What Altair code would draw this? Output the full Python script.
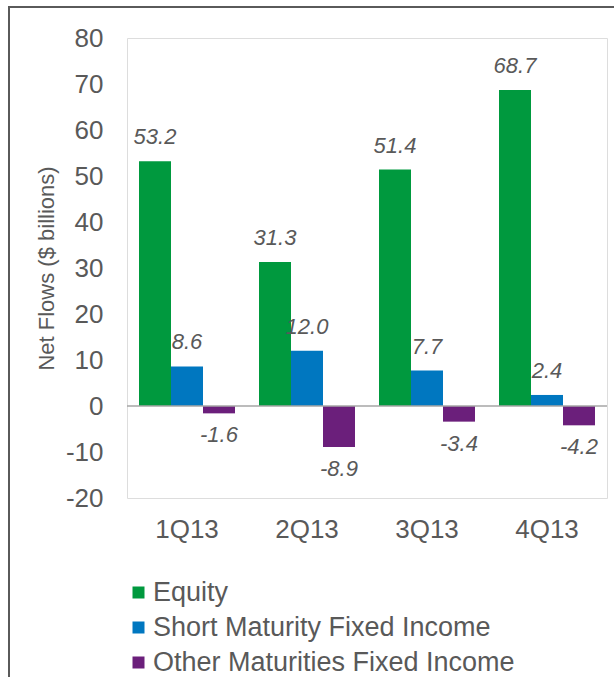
import altair as alt
import pandas as pd

quarters = ["1Q13", "2Q13", "3Q13", "4Q13"]
series = ["Equity", "Short Maturity Fixed Income", "Other Maturities Fixed Income"]
equity = [53.2, 31.3, 51.4, 68.7]
short_fi = [8.6, 12.0, 7.7, 2.4]
other_fi = [-1.6, -8.9, -3.4, -4.2]
colors = ["#00993E", "#0077C0", "#6B1F7B"]
y_ticks = [-20, -10, 0, 10, 20, 30, 40, 50, 60, 70, 80]

rows = []
for i, q in enumerate(quarters):
    for s, vals in zip(series, [equity, short_fi, other_fi]):
        rows.append({"quarter": q, "series": s, "value": vals[i]})
df = pd.DataFrame(rows)

FONT = "Liberation Sans"
GRAY = "#595959"

x_enc = alt.X("quarter:N", sort=quarters, title=None,
              scale=alt.Scale(paddingInner=0.2, paddingOuter=0.1),
              axis=alt.Axis(labelAngle=0, labelFontSize=26, labelColor=GRAY, labelFont=FONT,
                            ticks=False, domain=False, labelPadding=18))
xo_enc = alt.XOffset("series:N", sort=series, scale=alt.Scale(paddingInner=0, paddingOuter=0))
y_scale = alt.Scale(domain=[-20, 80], nice=False, zero=False)

base = alt.Chart(df).transform_calculate(
    label="(datum.value < 0 ? '-' : '') + format(abs(datum.value), '.1f')"
)

bars = base.mark_bar().encode(
    x=x_enc,
    xOffset=xo_enc,
    y=alt.Y("value:Q", scale=y_scale, title="Net Flows ($ billions)",
            axis=alt.Axis(values=y_ticks, grid=False, ticks=False, domain=False,
                          labelExpr="(datum.value < 0 ? '-' : '') + abs(datum.value)",
                          labelFontSize=26, labelColor=GRAY, labelFont=FONT, labelPadding=24,
                          titleFontSize=22, titleColor=GRAY, titleFont=FONT, titleFontWeight="normal",
                          titleAngle=270, titleX=-74, titleY=230, titleAlign="center",
                          titleBaseline="alphabetic")),
    color=alt.Color("series:N", sort=series,
                    scale=alt.Scale(domain=series, range=colors),
                    legend=alt.Legend(title=None, orient="none", legendX=-2, legendY=541,
                                      direction="vertical", symbolType="square", symbolSize=144,
                                      symbolStrokeWidth=0, labelFontSize=27, labelColor=GRAY,
                                      labelFont=FONT, labelOffset=1, labelLimit=0,
                                      rowPadding=7, padding=0)),
)

pos_labels = base.transform_filter("datum.value >= 0").mark_text(
    baseline="bottom", dy=-12, fontSize=22, fontStyle="italic", font=FONT, color=GRAY
).encode(
    x=alt.X("quarter:N", sort=quarters),
    xOffset=alt.XOffset("series:N", sort=series),
    y=alt.Y("value:Q", scale=y_scale),
    text=alt.Text("label:N"),
)

neg_labels = base.transform_filter("datum.value < 0").mark_text(
    baseline="top", dy=12, fontSize=22, fontStyle="italic", font=FONT, color=GRAY
).encode(
    x=alt.X("quarter:N", sort=quarters),
    xOffset=alt.XOffset("series:N", sort=series),
    y=alt.Y("value:Q", scale=y_scale),
    text=alt.Text("label:N"),
)

zero_line = alt.Chart(pd.DataFrame({"z": [0]})).mark_rule(color="#A6A6A6", strokeWidth=1.5).encode(
    y=alt.Y("z:Q", scale=y_scale), x=alt.value(0), x2=alt.value(480)
)

frame_left = alt.Chart(pd.DataFrame({"a": [0]})).mark_rule(color="#5A5A5A", strokeWidth=2).encode(
    x=alt.value(-118), y=alt.value(-31), y2=alt.value(700)
)
frame_top = alt.Chart(pd.DataFrame({"a": [0]})).mark_rule(color="#5A5A5A", strokeWidth=2).encode(
    x=alt.value(-119), x2=alt.value(600), y=alt.value(-31)
)

chart = alt.layer(bars, zero_line, pos_labels, neg_labels, frame_left, frame_top).properties(
    width=480, height=460,
    autosize=alt.AutoSizeParams(type="none"),
    padding={"left": 127, "top": 38, "right": 7, "bottom": 179},
).configure_view(stroke=None).configure(background="white")

chart.save("out.html", embed_options={"renderer": "svg", "actions": False})
